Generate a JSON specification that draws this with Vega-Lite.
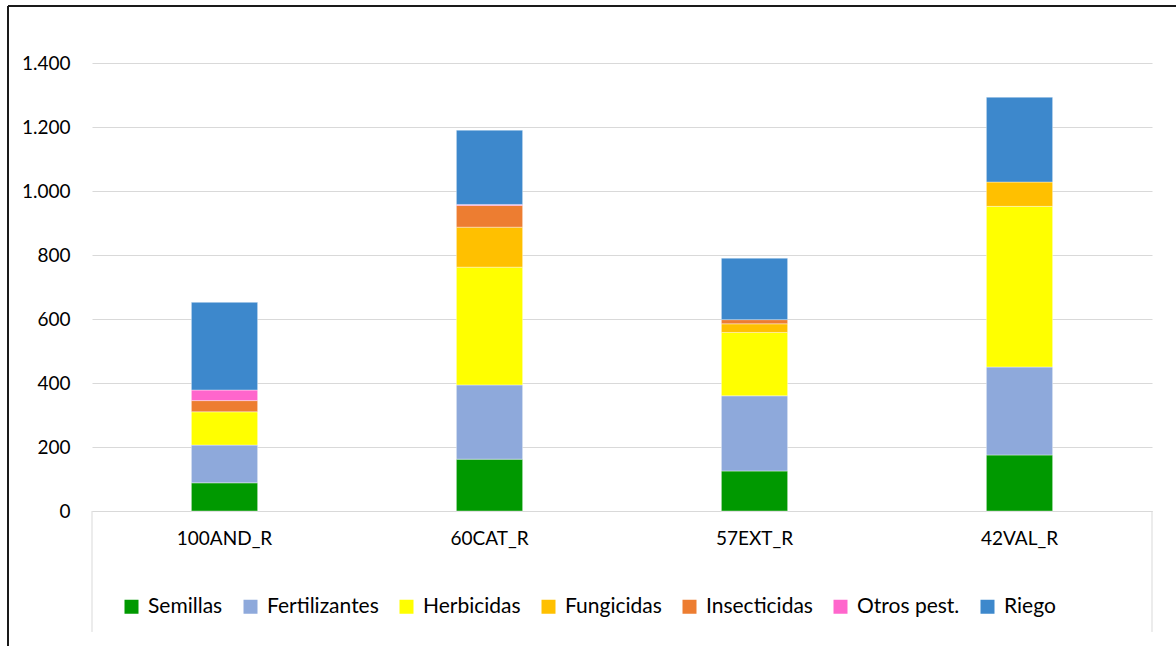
{
  "$schema": "https://vega.github.io/schema/vega-lite/v6.json",
  "width": 1060,
  "height": 448,
  "autosize": {"type": "none"},
  "padding": {"left": 92, "top": 63, "right": 24, "bottom": 135},
  "background": "#ffffff",
  "config": {
    "view": {"stroke": null},
    "font": "Lato",
    "axis": {"labelFont": "Lato", "labelFontSize": 19, "labelColor": "#000000"},
    "legend": {"labelFont": "Lato", "labelFontSize": 21, "labelColor": "#000000"}
  },
  "layer": [
    {
      "data": {
        "values": [
          {"region": "100AND_R", "concepto": "Semillas", "orden": 1, "valor": 88},
          {"region": "100AND_R", "concepto": "Fertilizantes", "orden": 2, "valor": 118},
          {"region": "100AND_R", "concepto": "Herbicidas", "orden": 3, "valor": 104},
          {"region": "100AND_R", "concepto": "Insecticidas", "orden": 5, "valor": 35},
          {"region": "100AND_R", "concepto": "Otros pest.", "orden": 6, "valor": 33},
          {"region": "100AND_R", "concepto": "Riego", "orden": 7, "valor": 274},
          {"region": "60CAT_R", "concepto": "Semillas", "orden": 1, "valor": 162},
          {"region": "60CAT_R", "concepto": "Fertilizantes", "orden": 2, "valor": 232},
          {"region": "60CAT_R", "concepto": "Herbicidas", "orden": 3, "valor": 368},
          {"region": "60CAT_R", "concepto": "Fungicidas", "orden": 4, "valor": 125},
          {"region": "60CAT_R", "concepto": "Insecticidas", "orden": 5, "valor": 68},
          {"region": "60CAT_R", "concepto": "Otros pest.", "orden": 6, "valor": 3},
          {"region": "60CAT_R", "concepto": "Riego", "orden": 7, "valor": 232},
          {"region": "57EXT_R", "concepto": "Semillas", "orden": 1, "valor": 125},
          {"region": "57EXT_R", "concepto": "Fertilizantes", "orden": 2, "valor": 235},
          {"region": "57EXT_R", "concepto": "Herbicidas", "orden": 3, "valor": 198},
          {"region": "57EXT_R", "concepto": "Fungicidas", "orden": 4, "valor": 27},
          {"region": "57EXT_R", "concepto": "Insecticidas", "orden": 5, "valor": 13},
          {"region": "57EXT_R", "concepto": "Riego", "orden": 7, "valor": 192},
          {"region": "42VAL_R", "concepto": "Semillas", "orden": 1, "valor": 175},
          {"region": "42VAL_R", "concepto": "Fertilizantes", "orden": 2, "valor": 275},
          {"region": "42VAL_R", "concepto": "Herbicidas", "orden": 3, "valor": 502},
          {"region": "42VAL_R", "concepto": "Fungicidas", "orden": 4, "valor": 76},
          {"region": "42VAL_R", "concepto": "Riego", "orden": 7, "valor": 265}
        ]
      },
      "mark": {"type": "bar", "width": {"band": 0.25}, "stroke": "#ffffff", "strokeWidth": 0.75, "strokeOpacity": 0.5},
      "encoding": {
        "x": {
          "field": "region",
          "type": "nominal",
          "sort": ["100AND_R", "60CAT_R", "57EXT_R", "42VAL_R"],
          "scale": {"paddingInner": 0, "paddingOuter": 0},
          "axis": {
            "title": null,
            "labelAngle": 0,
            "ticks": false,
            "tickSize": 0,
            "labelPadding": 18,
            "domain": true,
            "domainColor": "#d9d9d9",
            "domainWidth": 1,
            "grid": false
          }
        },
        "y": {
          "field": "valor",
          "type": "quantitative",
          "stack": "zero",
          "scale": {"domain": [0, 1400], "nice": false, "zero": true},
          "axis": {
            "title": null,
            "values": [0, 200, 400, 600, 800, 1000, 1200, 1400],
            "format": ",d",
            "ticks": false,
            "tickSize": 0,
            "labelPadding": 22,
            "domain": false,
            "grid": true,
            "gridColor": "#d9d9d9",
            "gridWidth": 1,
            "labelExpr": "replace(datum.label, ',', '.')"
          }
        },
        "order": {"field": "orden", "type": "quantitative", "sort": "ascending"},
        "color": {
          "field": "concepto",
          "type": "nominal",
          "sort": ["Semillas", "Fertilizantes", "Herbicidas", "Fungicidas", "Insecticidas", "Otros pest.", "Riego"],
          "scale": {
            "domain": ["Semillas", "Fertilizantes", "Herbicidas", "Fungicidas", "Insecticidas", "Otros pest.", "Riego"],
            "range": ["#009900", "#8EA9DB", "#FFFF00", "#FFC000", "#ED7D31", "#FF66CC", "#3D88CC"]
          },
          "legend": {
            "title": null,
            "orient": "none",
            "legendX": 29,
            "legendY": 533,
            "direction": "horizontal",
            "columns": 7,
            "symbolType": "square",
            "symbolSize": 196,
            "symbolStrokeWidth": 0,
            "columnPadding": 17,
            "labelOffset": 6,
            "padding": 0
          }
        }
      }
    },
    {
      "data": {"values": [{}]},
      "layer": [
        {
          "mark": {"type": "rule", "color": "#d9d9d9", "strokeWidth": 1},
          "encoding": {
            "x": {"datum": 0, "type": "quantitative", "scale": {"domain": [0, 1060], "nice": false, "zero": false}, "axis": null},
            "y": {"datum": 0, "type": "quantitative", "scale": {"domain": [0, 1400], "nice": false}},
            "y2": {"datum": -378}
          }
        },
        {
          "mark": {"type": "rule", "color": "#d9d9d9", "strokeWidth": 1},
          "encoding": {
            "x": {"datum": 1060, "type": "quantitative", "scale": {"domain": [0, 1060], "nice": false, "zero": false}, "axis": null},
            "y": {"datum": 0, "type": "quantitative", "scale": {"domain": [0, 1400], "nice": false}},
            "y2": {"datum": -378}
          }
        },
        {
          "mark": {"type": "rule", "color": "#1a1a1a", "strokeWidth": 2},
          "encoding": {
            "x": {"datum": -84, "type": "quantitative", "scale": {"domain": [0, 1060], "nice": false, "zero": false}, "axis": null},
            "x2": {"datum": 1090},
            "y": {"datum": 1578, "type": "quantitative", "scale": {"domain": [0, 1400], "nice": false}}
          }
        },
        {
          "mark": {"type": "rule", "color": "#1a1a1a", "strokeWidth": 2},
          "encoding": {
            "x": {"datum": -84, "type": "quantitative", "scale": {"domain": [0, 1060], "nice": false, "zero": false}, "axis": null},
            "y": {"datum": 1578, "type": "quantitative", "scale": {"domain": [0, 1400], "nice": false}},
            "y2": {"datum": -440}
          }
        }
      ]
    }
  ],
  "resolve": {"scale": {"x": "independent"}}
}
